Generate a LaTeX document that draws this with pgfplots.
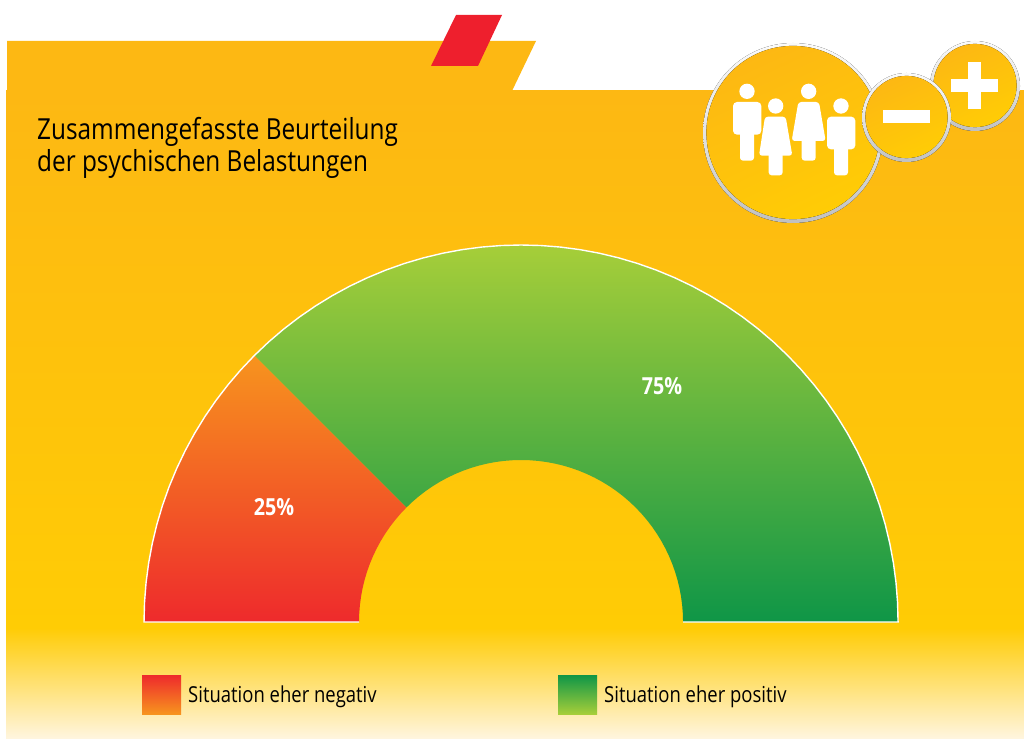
\documentclass[border=0pt]{standalone}
\usepackage{fontspec}
\setmainfont{Open Sans}[FakeStretch=0.84]
\usepackage{pgfplots}
\pgfplotsset{compat=1.18}
\definecolor{panelTop}{HTML}{FDB813}
\definecolor{panelMid}{HTML}{FFCC05}
\definecolor{panelEnd}{HTML}{FFF5DE}
\definecolor{redTop}{HTML}{F7941E}
\definecolor{redLow}{HTML}{EE2A2C}
\definecolor{greenTop}{HTML}{A6CE39}
\definecolor{greenLow}{HTML}{0F9647}
\definecolor{tabRed}{HTML}{EE1F2D}
\definecolor{ringTop}{HTML}{FAFAFA}
\definecolor{ringLow}{HTML}{C0C0C0}
\newcommand{\badge}[3]{%
  \fill[top color=ringTop,bottom color=ringLow,middle color=ringTop!60!ringLow] (#1,#2) circle (#3);
  \fill[top color=panelTop,bottom color=panelMid,shading angle=25] (#1,{#2-0.5}) circle ({#3-3.4});
}
\begin{document}
\begin{tikzpicture}
  \path[use as bounding box] (0pt,0pt) rectangle (1024pt,-738pt);
  % panel behind the chart, in pixel coordinates of the reference
  \begin{scope}[x=1pt,y=-1pt]
    \fill[panelTop] (7,41) -- (536,41) -- (512,91) -- (7,91) -- cycle;
    \fill[tabRed] (456,15) -- (502,15) -- (478,66) -- (431,66) -- cycle;
    \shade[top color=panelTop,bottom color=panelMid] (6,91) rectangle (1024,628);
    \shade[top color=panelMid,bottom color=panelEnd] (6,628) rectangle (1024,738);
    \badge{793}{133}{90}
    \badge{975}{86}{45}
    \badge{906.5}{117.5}{44.5}
    \node[anchor=base west,inner sep=0pt,font=\fontsize{29}{32}\selectfont] at (37,140) {Zusammengefasste Beurteilung};
    \node[anchor=base west,inner sep=0pt,font=\fontsize{29}{32}\selectfont] at (37,171.5) {der psychischen Belastungen};
  \end{scope}
  % figures and signs, in the 3x crop coordinates
  \begin{scope}[x=0.33333pt,y=-0.33333pt,shift={(2070,0)}]
    \fill[white] (171,274) circle (23) (257,318) circle (23) (356,274) circle (23) (453,318) circle (23);
    \fill[white,rounded corners=4pt] (129,306) rectangle (214,404);
    \fill[white,rounded corners=3pt] (150,390) rectangle (192,482);
    \fill[white,rounded corners=4pt] (411,350) rectangle (496,448);
    \fill[white,rounded corners=3pt] (432,430) rectangle (474,526);
    \fill[white,rounded corners=3pt] (225,350) -- (287,350) -- (307,467) -- (207,467) -- cycle;
    \fill[white,rounded corners=3pt] (236,450) rectangle (278,526);
    \fill[white,rounded corners=3pt] (325,306) -- (387,306) -- (407,423) -- (305,423) -- cycle;
    \fill[white,rounded corners=3pt] (335,405) rectangle (377,482);
    \fill[white] (579,330) rectangle (720,369);
    \fill[white] (783,237) rectangle (924,276);
    \fill[white] (834,186) rectangle (873,326);
  \end{scope}
  \begin{axis}[
      at={(0pt,-738pt)}, anchor=south west,
      scale only axis, width=1024pt, height=738pt,
      xmin=-521, xmax=503, ymin=-116, ymax=622,
      hide axis, clip=false,
    ]
    % 25 % of the half ring: 180 to 135 degrees
    \addplot[draw=none,shade,top color=redTop,bottom color=redLow,data cs=polar,forget plot] coordinates {
      (180,377) (177,377) (174,377) (171,377) (168,377) (165,377) (162,377) (159,377)
      (156,377) (153,377) (150,377) (147,377) (144,377) (141,377) (138,377) (135,377)
      (135,162) (138,162) (141,162) (144,162) (147,162) (150,162) (153,162) (156,162)
      (159,162) (162,162) (165,162) (168,162) (171,162) (174,162) (177,162) (180,162)
    } -- cycle;
    % 75 %: 135 to 0 degrees
    \addplot[draw=none,shade,top color=greenTop,bottom color=greenLow,data cs=polar,forget plot] coordinates {
      (135,377) (132,377) (129,377) (126,377) (123,377) (120,377) (117,377) (114,377)
      (111,377) (108,377) (105,377) (102,377) (99,377) (96,377) (93,377) (90,377)
      (87,377) (84,377) (81,377) (78,377) (75,377) (72,377) (69,377) (66,377)
      (63,377) (60,377) (57,377) (54,377) (51,377) (48,377) (45,377) (42,377)
      (39,377) (36,377) (33,377) (30,377) (27,377) (24,377) (21,377) (18,377)
      (15,377) (12,377) (9,377) (6,377) (3,377) (0,377)
      (0,162) (3,162) (6,162) (9,162) (12,162) (15,162) (18,162) (21,162)
      (24,162) (27,162) (30,162) (33,162) (36,162) (39,162) (42,162) (45,162)
      (48,162) (51,162) (54,162) (57,162) (60,162) (63,162) (66,162) (69,162)
      (72,162) (75,162) (78,162) (81,162) (84,162) (87,162) (90,162) (93,162)
      (96,162) (99,162) (102,162) (105,162) (108,162) (111,162) (114,162) (117,162)
      (120,162) (123,162) (126,162) (129,162) (132,162) (135,162)
    } -- cycle;
    % white outline along the outer edge and the base
    \addplot[white,line width=1.4pt,data cs=polar,no marks,forget plot] coordinates {
      (180,162) (180,377) (177,377) (174,377) (171,377) (168,377) (165,377) (162,377)
      (159,377) (156,377) (153,377) (150,377) (147,377) (144,377) (141,377) (138,377)
      (135,377) (132,377) (129,377) (126,377) (123,377) (120,377) (117,377) (114,377)
      (111,377) (108,377) (105,377) (102,377) (99,377) (96,377) (93,377) (90,377)
      (87,377) (84,377) (81,377) (78,377) (75,377) (72,377) (69,377) (66,377)
      (63,377) (60,377) (57,377) (54,377) (51,377) (48,377) (45,377) (42,377)
      (39,377) (36,377) (33,377) (30,377) (27,377) (24,377) (21,377) (18,377)
      (15,377) (12,377) (9,377) (6,377) (3,377) (0,377) (0,162)
    };
    % legend swatches
    \addplot[draw=none,shade,top color=redLow,bottom color=redTop,forget plot] coordinates {
      (-379,-53) (-340,-53) (-340,-92) (-379,-92)} -- cycle;
    \addplot[draw=none,shade,top color=greenLow,bottom color=greenTop,forget plot] coordinates {
      (37,-53) (76,-53) (76,-92) (37,-92)} -- cycle;
    \node[white,font=\fontsize{23.5}{26}\selectfont\bfseries] at (axis cs:-247,115) {25\%};
    \node[white,font=\fontsize{23.5}{26}\selectfont\bfseries] at (axis cs:141,236) {75\%};
    \node[anchor=base west,inner sep=0pt,font=\fontsize{22}{26}\selectfont] at (axis cs:-333,-80) {Situation eher negativ};
    \node[anchor=base west,inner sep=0pt,font=\fontsize{22}{26}\selectfont] at (axis cs:83,-80) {Situation eher positiv};
  \end{axis}
\end{tikzpicture}
\end{document}
